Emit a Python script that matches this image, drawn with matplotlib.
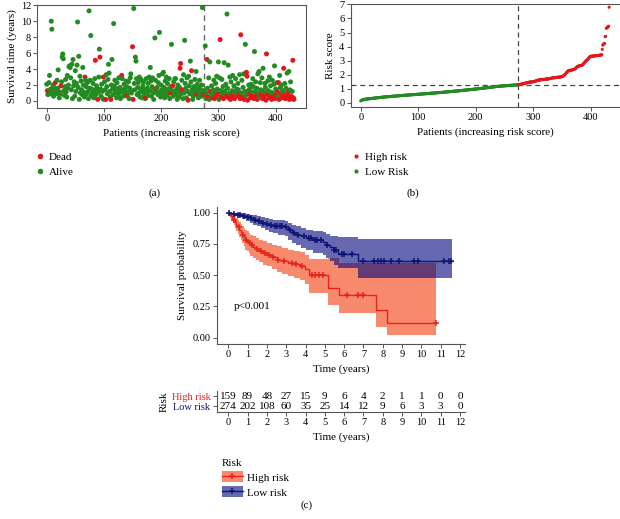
import numpy as np
import matplotlib
matplotlib.use("Agg")
import matplotlib.pyplot as plt
from matplotlib.patches import Patch
from matplotlib.lines import Line2D
from matplotlib.legend_handler import HandlerTuple

plt.rcParams['font.family'] = ['Liberation Serif', 'DejaVu Serif']
plt.rcParams['font.size'] = 7.5

W, H = 620, 519
RED = '#e3161b'
GREEN = '#238b22'
NAVY = '#0d1473'
KM_RED = '#e8231b'
GRAY = '#555555'

# ---- data: survival time per patient, ordered by risk score ----
surv_time = [
    2.1, 1.3, 0.8, 1.2, 2.3, 3.2, 0.9, 1.5, 10.0, 9.0, 1.1, 2.0, 0.6, 1.7, 1.0, 2.3, 1.4, 0.9, 2.6, 1.6,
    3.9, 1.2, 0.4, 1.0, 0.9, 1.9, 2.4, 5.5, 5.9, 5.3, 1.3, 0.7, 1.8, 2.7, 1.1, 0.5, 3.2, 1.6, 2.0, 4.3,
    4.4, 4.2, 2.9, 1.4, 4.6, 0.3, 5.2, 1.9, 2.4, 0.6, 3.8, 1.2, 2.2, 4.5, 9.9, 1.7, 5.6, 0.2, 3.1, 1.0,
    2.5, 1.4, 0.8, 4.2, 2.0, 1.1, 0.5, 3.0, 2.6, 1.8, 0.9, 2.3, 1.2, 0.3, 11.3, 1.6, 2.6, 8.2, 0.7, 1.5,
    1.0, 2.2, 0.4, 1.3, 2.8, 5.1, 0.8, 1.9, 1.6, 0.2, 1.1, 3.0, 6.5, 5.5, 1.5, 0.6, 2.1, 1.2, 0.3, 3.0,
    0.2, 2.4, 1.4, 0.2, 3.3, 1.8, 0.9, 2.7, 4.6, 3.5, 1.2, 0.5, 0.2, 2.0, 5.2, 1.5, 0.8, 9.7, 1.9, 2.6,
    1.1, 1.6, 0.4, 2.3, 1.3, 0.7, 2.9, 1.0, 1.7, 0.3, 1.4, 3.2, 2.8, 1.2, 0.6, 2.1, 1.5, 0.9, 1.2, 2.5,
    1.8, 0.6, 1.1, 2.4, 0.3, 1.6, 2.9, 3.4, 1.0, 1.3, 6.8, 0.2, 11.6, 2.2, 1.4, 5.5, 5.0, 2.8, 0.8, 1.7,
    2.3, 1.0, 3.0, 0.5, 1.5, 2.7, 1.2, 0.4, 1.9, 2.4, 0.9, 1.4, 0.3, 0.4, 2.8, 1.1, 1.6, 2.2, 0.7, 3.0,
    1.3, 4.2, 2.5, 0.6, 1.8, 2.9, 1.0, 0.2, 1.5, 7.9, 2.6, 1.2, 1.6, 1.7, 0.8, 2.3, 3.2, 8.6, 1.1, 0.5,
    2.0, 1.4, 3.4, 0.9, 3.6, 1.7, 0.4, 2.5, 1.2, 3.0, 0.7, 2.2, 1.5, 1.0, 2.8, 0.3, 1.0, 1.8, 7.1, 1.3,
    1.9, 0.6, 2.4, 1.1, 2.8, 2.8, 0.8, 1.5, 0.2, 2.0, 1.2, 0.5, 1.7, 4.1, 4.7, 0.9, 2.6, 1.4, 0.3, 3.3,
    1.0, 7.6, 2.2, 1.6, 0.4, 2.9, 1.2, 0.1, 3.1, 1.9, 0.9, 5.0, 2.4, 3.8, 1.4, 0.2, 0.6, 1.8, 1.1, 2.7,
    1.5, 3.7, 0.8, 2.1, 1.2, 0.4, 1.7, 2.6, 0.9, 1.4, 0.6, 2.0, 11.7, 1.1,
    0.9, 1.3, 0.7, 6.9, 0.3, 1.0, 5.2, 1.6, 0.5, 2.9, 0.2, 4.9, 1.2, 0.8, 1.9, 0.4, 0.7, 1.4, 2.6, 0.3,
    1.1, 2.2, 0.6, 3.1, 1.5, 0.9, 4.9, 0.2, 2.9, 7.7, 1.3, 0.5, 2.7, 1.0, 1.8, 0.3, 4.8, 1.2, 0.8, 2.1,
    0.6, 10.9, 1.6, 4.5, 0.4, 1.0, 3.0, 0.2, 2.4, 0.7, 1.3, 3.2, 0.5, 1.9, 0.3, 1.1, 2.8, 0.6, 1.5, 0.9,
    2.2, 1.4, 0.8, 3.3, 0.3, 8.3, 1.0, 2.6, 0.5, 1.7, 3.4, 0.2, 1.2, 7.1, 0.7, 3.6, 3.1, 0.1, 1.3, 2.0,
    0.9, 1.5, 0.4, 2.1, 1.1, 0.6, 2.8, 1.8, 0.3, 6.2, 1.2, 2.4, 0.7, 1.6, 0.2, 3.4, 1.0, 3.7, 0.5, 2.3,
    1.4, 0.8, 2.9, 0.3, 4.1, 1.2, 0.6, 2.2, 1.7, 0.1, 5.9, 0.9, 2.5, 1.3, 0.4, 3.0, 0.7, 1.9, 1.1, 0.2,
    2.6, 1.0, 0.5, 2.1, 4.4, 0.3, 1.5, 0.8, 2.3, 1.2, 0.6, 2.3, 0.2, 3.2, 1.7, 0.9, 2.0, 0.4, 1.3, 1.0,
    4.1, 0.7, 2.2, 0.3, 1.6, 0.5, 3.5, 1.1, 0.8, 3.7, 0.2, 1.4, 2.4, 0.6, 0.3, 1.2, 5.1, 0.4, 0.2,
]

dead_idx = [
    3, 15, 23, 25, 67, 85, 89, 93, 99, 103, 112, 131, 141, 150, 151, 173, 192, 216, 220,
    233, 234, 237, 247, 253, 262,
    274, 276, 280, 282, 286, 289, 293, 296, 299, 303, 305, 309, 314, 318, 321, 323, 326,
    328, 331, 336, 338, 339, 342, 345, 349, 350, 351, 354, 356, 359, 362, 366, 368, 375,
    377, 380, 383, 384, 385, 388, 390, 393, 396, 399, 401, 403, 405, 406, 409, 411, 414,
    415, 417, 419, 421, 422, 424, 427, 428, 430, 431, 432,
]

risk_score = [
    0.13, 0.16, 0.18, 0.20, 0.21, 0.22, 0.23, 0.24, 0.25, 0.25, 0.26, 0.26, 0.27, 0.27, 0.28, 0.28, 0.29, 0.29, 0.30, 0.30,
    0.31, 0.31, 0.32, 0.32, 0.33, 0.33, 0.34, 0.34, 0.35, 0.35, 0.36, 0.36, 0.37, 0.37, 0.37, 0.38, 0.38, 0.39, 0.39, 0.40,
    0.40, 0.40, 0.41, 0.41, 0.42, 0.42, 0.42, 0.43, 0.43, 0.44, 0.44, 0.44, 0.45, 0.45, 0.45, 0.46, 0.46, 0.46, 0.47, 0.47,
    0.47, 0.48, 0.48, 0.48, 0.49, 0.49, 0.49, 0.50, 0.50, 0.50, 0.51, 0.51, 0.51, 0.52, 0.52, 0.52, 0.53, 0.53, 0.53, 0.54,
    0.54, 0.54, 0.55, 0.55, 0.55, 0.55, 0.56, 0.56, 0.56, 0.57, 0.57, 0.57, 0.58, 0.58, 0.58, 0.58, 0.59, 0.59, 0.59, 0.60,
    0.60, 0.60, 0.61, 0.61, 0.61, 0.62, 0.62, 0.62, 0.63, 0.63, 0.63, 0.64, 0.64, 0.64, 0.65, 0.65, 0.65, 0.66, 0.66, 0.66,
    0.67, 0.67, 0.67, 0.68, 0.68, 0.68, 0.69, 0.69, 0.69, 0.70, 0.70, 0.70, 0.71, 0.71, 0.71, 0.72, 0.72, 0.72, 0.73, 0.73,
    0.73, 0.74, 0.74, 0.74, 0.75, 0.75, 0.75, 0.76, 0.76, 0.77, 0.77, 0.77, 0.78, 0.78, 0.78, 0.79, 0.79, 0.80, 0.80, 0.80,
    0.81, 0.81, 0.82, 0.82, 0.82, 0.83, 0.83, 0.84, 0.84, 0.84, 0.85, 0.85, 0.86, 0.86, 0.86, 0.87, 0.87, 0.88, 0.88, 0.88,
    0.89, 0.89, 0.90, 0.90, 0.91, 0.91, 0.91, 0.92, 0.92, 0.93, 0.93, 0.94, 0.94, 0.94, 0.95, 0.95, 0.96, 0.96, 0.97, 0.97,
    0.97, 0.98, 0.98, 0.99, 0.99, 1.00, 1.00, 1.01, 1.01, 1.02, 1.02, 1.03, 1.03, 1.04, 1.04, 1.05, 1.05, 1.06, 1.06, 1.07,
    1.07, 1.08, 1.08, 1.09, 1.09, 1.10, 1.10, 1.11, 1.11, 1.12, 1.12, 1.13, 1.13, 1.14, 1.14, 1.15, 1.15, 1.16, 1.16, 1.17,
    1.17, 1.17, 1.18, 1.18, 1.18, 1.19, 1.19, 1.19, 1.20, 1.20, 1.20, 1.21, 1.21, 1.21, 1.22, 1.22, 1.22, 1.23, 1.23, 1.23,
    1.24, 1.24, 1.24, 1.24, 1.25, 1.25, 1.25, 1.25, 1.26, 1.26, 1.26, 1.27, 1.27, 1.27,
    1.28, 1.29, 1.30, 1.30, 1.31, 1.32, 1.33, 1.34, 1.35, 1.36, 1.37, 1.38, 1.39, 1.40, 1.41, 1.42, 1.43, 1.44, 1.45, 1.46,
    1.46, 1.47, 1.47, 1.48, 1.48, 1.49, 1.50, 1.51, 1.52, 1.53, 1.54, 1.55, 1.57, 1.59, 1.60, 1.61, 1.62, 1.62, 1.63, 1.63,
    1.64, 1.64, 1.65, 1.65, 1.66, 1.66, 1.67, 1.67, 1.68, 1.68, 1.69, 1.69, 1.70, 1.70, 1.71, 1.72, 1.73, 1.74, 1.75, 1.76,
    1.77, 1.77, 1.78, 1.78, 1.79, 1.79, 1.80, 1.80, 1.81, 1.81, 1.82, 1.82, 1.83, 1.83, 1.84, 1.85, 1.86, 1.88, 1.90, 1.93,
    1.96, 2.00, 2.05, 2.10, 2.15, 2.20, 2.24, 2.27, 2.28, 2.29, 2.30, 2.31, 2.32, 2.33, 2.34, 2.35, 2.36, 2.38, 2.40, 2.42,
    2.45, 2.50, 2.55, 2.58, 2.60, 2.61, 2.62, 2.63, 2.64, 2.65, 2.66, 2.68, 2.70, 2.75, 2.80, 2.85, 2.90, 2.95, 2.98, 3.00,
    3.05, 3.10, 3.15, 3.20, 3.25, 3.28, 3.30, 3.31, 3.31, 3.32, 3.32, 3.33, 3.33, 3.34, 3.34, 3.35, 3.35, 3.36, 3.36, 3.37,
    3.37, 3.38, 3.38, 3.39, 3.40, 3.42, 3.80, 4.10, 4.15, 4.20, 4.22, 4.70, 4.72, 5.30, 5.33, 5.36, 5.40, 5.45, 6.80,
]

n_low = 274
cutoff = 1.28

# ---- Kaplan-Meier step data (time, survival, lower CI, upper CI) ----
high_t = [0, 0.05, 0.1, 0.15, 0.2, 0.25, 0.3, 0.35, 0.42, 0.5, 0.58, 0.65, 0.72, 0.8, 0.88, 0.95,
          1.05, 1.15, 1.3, 1.45, 1.6, 1.8, 2.0, 2.25, 2.5, 2.8, 3.1, 3.4, 3.7, 3.95, 4.2, 5.18,
          5.74, 7.64, 8.24]
high_s = [1.0, 0.99, 0.98, 0.97, 0.96, 0.95, 0.94, 0.925, 0.905, 0.885, 0.865, 0.845, 0.825, 0.805,
          0.785, 0.77, 0.755, 0.74, 0.725, 0.71, 0.695, 0.68, 0.665, 0.645, 0.625, 0.61, 0.6, 0.59,
          0.575, 0.55, 0.505, 0.395, 0.34, 0.219, 0.115]
high_lo = [1.0, 0.975, 0.96, 0.945, 0.93, 0.915, 0.9, 0.88, 0.855, 0.83, 0.805, 0.78, 0.755, 0.73,
           0.705, 0.69, 0.675, 0.655, 0.64, 0.62, 0.605, 0.585, 0.57, 0.55, 0.525, 0.51, 0.495,
           0.48, 0.46, 0.43, 0.355, 0.26, 0.195, 0.083, 0.02]
high_hi = [1.0, 1.0, 1.0, 0.995, 0.99, 0.985, 0.98, 0.97, 0.955, 0.94, 0.925, 0.91, 0.895, 0.88,
           0.865, 0.85, 0.835, 0.825, 0.81, 0.8, 0.785, 0.775, 0.76, 0.745, 0.73, 0.715, 0.705,
           0.695, 0.685, 0.665, 0.63, 0.64, 0.595, 0.595, 0.595]
high_end = 10.75
high_cens = [0.3, 0.55, 0.75, 0.9, 1.1, 1.25, 1.5, 1.7, 1.9, 2.1, 2.3, 2.6, 2.9, 3.3, 3.5, 3.8,
             4.35, 4.5, 4.7, 4.9, 6.13, 6.74, 7.0, 10.75]

low_t = [0, 0.1, 0.25, 0.45, 0.7, 0.9, 1.1, 1.3, 1.5, 1.7, 1.9, 2.1, 2.3, 2.6, 2.95, 3.1, 3.3,
         3.5, 3.75, 4.0, 4.4, 4.9, 5.05, 5.25, 5.45, 5.7, 6.7]
low_s = [1.0, 0.995, 0.99, 0.985, 0.975, 0.965, 0.955, 0.945, 0.93, 0.92, 0.91, 0.9, 0.895, 0.89,
         0.885, 0.86, 0.84, 0.825, 0.81, 0.795, 0.78, 0.765, 0.745, 0.725, 0.705, 0.667, 0.616]
low_lo = [1.0, 0.985, 0.975, 0.965, 0.95, 0.935, 0.92, 0.905, 0.89, 0.875, 0.86, 0.845, 0.835,
          0.825, 0.815, 0.785, 0.76, 0.74, 0.72, 0.70, 0.68, 0.66, 0.635, 0.61, 0.585, 0.555, 0.475]
low_hi = [1.0, 1.0, 1.0, 1.0, 0.995, 0.99, 0.985, 0.98, 0.97, 0.965, 0.955, 0.95, 0.945, 0.94,
          0.935, 0.915, 0.9, 0.89, 0.875, 0.865, 0.855, 0.845, 0.83, 0.815, 0.81, 0.808, 0.79]
low_end = 11.58
low_cens = [0.05, 0.3, 0.5, 0.6, 0.8, 1.0, 1.2, 1.4, 1.6, 1.8, 2.0, 2.2, 2.4, 2.5, 2.7, 2.8, 3.0,
            3.2, 3.4, 3.6, 3.9, 4.2, 4.3, 4.5, 4.6, 4.8, 5.1, 5.5, 5.6, 5.9, 6.0, 6.43, 7.0, 7.56,
            7.74, 7.91, 8.08, 8.43, 8.84, 9.64, 9.81, 11.19, 11.45, 11.54]

table_years = list(range(13))
high_n = [159, 89, 48, 27, 15, 9, 6, 4, 2, 1, 1, 0, 0]
low_n = [274, 202, 108, 60, 35, 25, 14, 12, 9, 6, 3, 3, 0]

assert len(surv_time) == len(risk_score) == 433

fig = plt.figure(figsize=(W / 100, H / 100), dpi=100)


def px_axes(left, top, right, bottom):
    return fig.add_axes([left / W, 1 - bottom / H, (right - left) / W, (bottom - top) / H])


def fx(x):
    return x / W


def fy(y):
    return 1 - y / H


def style_box(ax):
    for s in ax.spines.values():
        s.set_color(GRAY)
        s.set_linewidth(0.8)
    ax.tick_params(length=3, width=0.7, color=GRAY, pad=1.5, labelsize=7.5)


patients = np.arange(len(surv_time))
dead = np.zeros(len(surv_time), dtype=bool)
dead[dead_idx] = True
pt_colors = np.where(dead, RED, GREEN)

# ---- (a) survival status ----
ax_a = px_axes(37.3, 4.7, 306, 107.7)
ax_a.scatter(patients, surv_time, c=pt_colors, s=13, linewidths=0, zorder=2)
ax_a.axvline(n_low, color='#666666', ls=(0, (4, 3)), lw=1.0, zorder=1)
ax_a.set_xlim(-16.4, 453)
ax_a.set_ylim(-0.84, 12.07)
ax_a.set_xticks([0, 100, 200, 300, 400])
ax_a.set_yticks(range(0, 13, 2))
ax_a.set_xlabel('Patients (increasing risk score)', fontsize=8, labelpad=4)
ax_a.set_ylabel('Survival time (years)', fontsize=8, labelpad=3)
style_box(ax_a)
fig.legend(handles=[Line2D([], [], ls='', marker='o', ms=4, color=RED, mec='none'),
                    Line2D([], [], ls='', marker='o', ms=4, color=GREEN, mec='none')],
           labels=['Dead', 'Alive'], loc='upper left',
           bbox_to_anchor=(fx(30), fy(147)), frameon=False, fontsize=8,
           handlelength=0.8, handletextpad=0.4, labelspacing=0.45, borderpad=0)
fig.text(fx(155), fy(193), '(a)', ha='center', va='center', fontsize=8)

# ---- (b) risk score ----
ax_b = px_axes(350.7, 4.0, 619.5, 106.5)
risk_colors = [GREEN if i < n_low else RED for i in patients]
ax_b.scatter(patients, risk_score, c=risk_colors, s=5, linewidths=0, zorder=2)
ax_b.axvline(n_low - 0.5, color='#444444', ls=(0, (4, 3)), lw=0.9, zorder=1)
ax_b.axhline(cutoff, color='#444444', ls=(0, (4, 3)), lw=0.9, zorder=1)
ax_b.set_xlim(-17.4, 450)
ax_b.set_ylim(-0.27, 7.03)
ax_b.set_xticks([0, 100, 200, 300, 400])
ax_b.set_yticks(range(0, 8))
ax_b.set_xlabel('Patients (increasing risk score)', fontsize=8, labelpad=4)
ax_b.set_ylabel('Risk score', fontsize=8, labelpad=3)
style_box(ax_b)
ax_b.spines['right'].set_visible(False)
fig.legend(handles=[Line2D([], [], ls='', marker='o', ms=3, color=RED, mec='none'),
                    Line2D([], [], ls='', marker='o', ms=3, color=GREEN, mec='none')],
           labels=['High risk', 'Low Risk'], loc='upper left',
           bbox_to_anchor=(fx(346), fy(147)), frameon=False, fontsize=8,
           handlelength=0.8, handletextpad=0.4, labelspacing=0.45, borderpad=0)
fig.text(fx(413), fy(193), '(b)', ha='center', va='center', fontsize=8)

# ---- (c) Kaplan-Meier ----
ax_c = px_axes(216.7, 207.3, 465, 344)


def km_draw(ax, t, s, lo, hi, end, cens, line_c, fill_c, z):
    tt = np.append(t, end)
    ss = np.append(s, s[-1])
    ll = np.append(lo, lo[-1])
    hh = np.append(hi, hi[-1])
    ax.fill_between(tt, ll, hh, step='post', color=fill_c, alpha=0.6, lw=0, zorder=z)
    ax.step(tt, ss, where='post', color=line_c, lw=1.0, zorder=z + 2)
    idx = np.searchsorted(t, cens, side='right') - 1
    ax.plot(cens, np.asarray(s)[idx], ls='', marker='+', ms=4, mew=1.1,
            color=line_c, zorder=z + 2)


km_draw(ax_c, high_t, high_s, high_lo, high_hi, high_end, high_cens, KM_RED, '#f23a0c', 1)
km_draw(ax_c, low_t, low_s, low_lo, low_hi, low_end, low_cens, NAVY, '#00067a', 2)

ax_c.set_xlim(-0.6, 12.26)
ax_c.set_ylim(-0.05, 1.043)
ax_c.set_xticks(range(13))
ax_c.set_yticks([0, 0.25, 0.5, 0.75, 1.0])
ax_c.set_yticklabels(['0.00', '0.25', '0.50', '0.75', '1.00'])
ax_c.set_xlabel('Time (years)', fontsize=8, labelpad=4)
ax_c.set_ylabel('Survival probability', fontsize=8, labelpad=4)
ax_c.spines['top'].set_visible(False)
ax_c.spines['right'].set_visible(False)
style_box(ax_c)
ax_c.text(0.3, 0.25, 'p<0.001', fontsize=8, va='center')

# ---- risk table ----
ax_t = px_axes(216.7, 391, 465, 412)
ax_t.set_xlim(-0.6, 12.26)
ax_t.set_ylim(0, 2)
for yr, n in zip(table_years, high_n):
    ax_t.text(yr, 1.5, str(n), ha='center', va='center', fontsize=8)
for yr, n in zip(table_years, low_n):
    ax_t.text(yr, 0.55, str(n), ha='center', va='center', fontsize=8)
ax_t.set_xticks(table_years)
ax_t.set_yticks([1.5, 0.55])
ax_t.set_yticklabels(['High risk', 'Low risk'], fontsize=8.5)
ax_t.get_yticklabels()[0].set_color(KM_RED)
ax_t.get_yticklabels()[1].set_color(NAVY)
ax_t.spines['top'].set_visible(False)
ax_t.spines['right'].set_visible(False)
style_box(ax_t)
ax_t.set_xlabel('Time (years)', fontsize=8, labelpad=4)
ax_t.set_ylabel('Risk', fontsize=8, labelpad=2)

# ---- KM legend ----
h_high = (Patch(facecolor='#f23a0c', alpha=0.6, lw=0),
          Line2D([], [], color=KM_RED, lw=1.0, marker='+', ms=4, mew=1.1))
h_low = (Patch(facecolor='#00067a', alpha=0.6, lw=0),
         Line2D([], [], color=NAVY, lw=1.0, marker='+', ms=4, mew=1.1))
leg = fig.legend(handles=[h_high, h_low], labels=['High risk', 'Low risk'],
                 handler_map={tuple: HandlerTuple(ndivide=1)},
                 title='Risk', title_fontsize=8, fontsize=8, loc='upper left',
                 bbox_to_anchor=(fx(216), fy(453)), frameon=False, alignment='left',
                 handlelength=1.9, handleheight=1.1, handletextpad=0.35,
                 labelspacing=0.35, borderpad=0)
fig.text(fx(307), fy(505), '(c)', ha='center', va='center', fontsize=8)

fig.savefig('out.png', dpi=100)
